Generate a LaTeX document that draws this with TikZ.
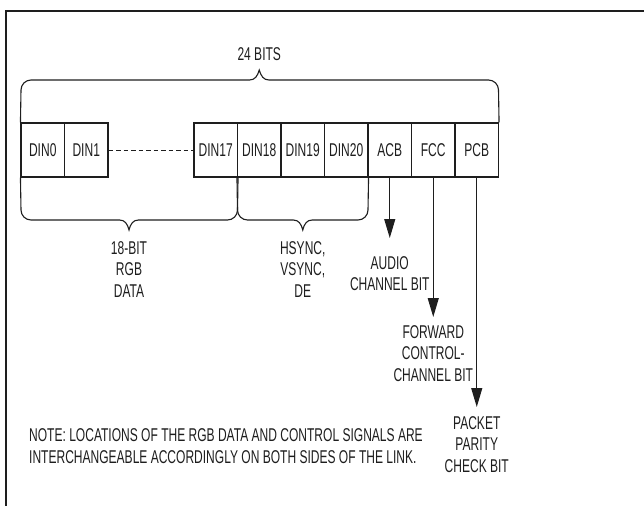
\documentclass[tikz,border=0pt]{standalone}
\usepackage{fontspec}
\setmainfont{Liberation Sans}[FakeStretch=0.65]
\usepackage{tikz}
\usetikzlibrary{arrows.meta,positioning}
\definecolor{linegray}{RGB}{30,30,30}
\newcommand{\bitfont}{\fontsize{18.5}{21.5}\selectfont}

\begin{document}
\begin{tikzpicture}[x=1pt,y=-1pt,
          cell/.style={draw=linegray,line width=1.1pt,minimum width=43.5pt,
                       minimum height=54pt,inner sep=0pt,font=\bitfont,text=linegray},
          brc/.style={draw=linegray,line width=1.1pt},
          bitarrow/.style={draw=linegray,line width=1.1pt,
                           -{Triangle[length=19pt,width=11pt]}},
          lbl/.style={font=\bitfont,align=center,inner sep=0pt,text=linegray}]
        \useasboundingbox (0,0) rectangle (644,506);
        \draw[linegray,line width=1.6pt] (644,11) -- (6,11) -- (6,506);
        \node[cell] (d0)  at (42.75,150)  {DIN0};
        \node[cell] (d1)  at (86.25,150)  {DIN1};
        \node[cell] (d17) at (215.75,150) {DIN17};
        \node[cell] (d18) at (259.25,150) {DIN18};
        \node[cell] (d19) at (302.75,150) {DIN19};
        \node[cell] (d20) at (346.25,150) {DIN20};
        \node[cell] (acb) at (389.75,150) {ACB};
        \node[cell] (fcc) at (433.25,150) {FCC};
        \node[cell] (pcb) at (476.75,150) {PCB};
        \draw[linegray,line width=0.9pt,dash pattern=on 4.5pt off 3pt] (d1) -- (d17);
        % braces
        \coordinate (toptip) at (259.25,70);
        \coordinate (rgbtip) at (129,230);
        \coordinate (synctip) at (302.75,230);
        \draw[brc] (d0.north west) -- (21,90) .. controls (21,84.5) and (25.5,80) .. (31,80)
          -- (249.5,80) .. controls (255,80) and (257.5,76) .. (toptip)
          .. controls (261,76) and (263.5,80) .. (269,80)
          -- (488.5,80) .. controls (494,80) and (498.5,84.5) .. (498.5,90) -- (pcb.north east);
        \draw[brc] (d0.south west) -- (21,210) .. controls (21,215.5) and (25.5,220) .. (31,220)
          -- (119.5,220) .. controls (125,220) and (127.5,224) .. (rgbtip)
          .. controls (130.5,224) and (133,220) .. (138.5,220)
          -- (227.5,220) .. controls (233,220) and (237.5,215.5) .. (237.5,210) -- (d17.south east);
        \draw[brc] (d18.south west) -- (237.5,210) .. controls (237.5,215.5) and (242,220) .. (247.5,220)
          -- (293.25,220) .. controls (298.75,220) and (301.25,224) .. (synctip)
          .. controls (304.25,224) and (306.75,220) .. (312.25,220)
          -- (358,220) .. controls (363.5,220) and (368,215.5) .. (368,210) -- (d20.south east);
        \node[lbl,above=9pt of toptip] (bits) {24 BITS};
        \node[lbl,below=11pt of rgbtip] (rgb) {18-BIT\\RGB\\DATA};
        \node[lbl,below=11pt of synctip] (sync) {HSYNC,\\VSYNC,\\DE};
        % bit arrows
        \coordinate (acbend) at (389.75,238);
        \coordinate (fccend) at (433.25,317);
        \coordinate (pcbend) at (476.75,407);
        \draw[bitarrow] (acb.south) -- (acbend);
        \draw[bitarrow] (fcc.south) -- (fccend);
        \draw[bitarrow] (pcb.south) -- (pcbend);
        \node[lbl,below=18pt of acbend] (audio) {AUDIO\\CHANNEL BIT};
        \node[lbl,below=8pt of fccend] (fwd) {FORWARD\\CONTROL-\\CHANNEL BIT};
        \node[lbl,below=9pt of pcbend] (parity) {PACKET\\PARITY\\CHECK BIT};
        \node[lbl,align=left,anchor=west] (note) at (29,446)
          {NOTE: LOCATIONS OF THE RGB DATA AND CONTROL SIGNALS ARE\\
           INTERCHANGEABLE ACCORDINGLY ON BOTH SIDES OF THE LINK.};
      \end{tikzpicture}
\end{document}
